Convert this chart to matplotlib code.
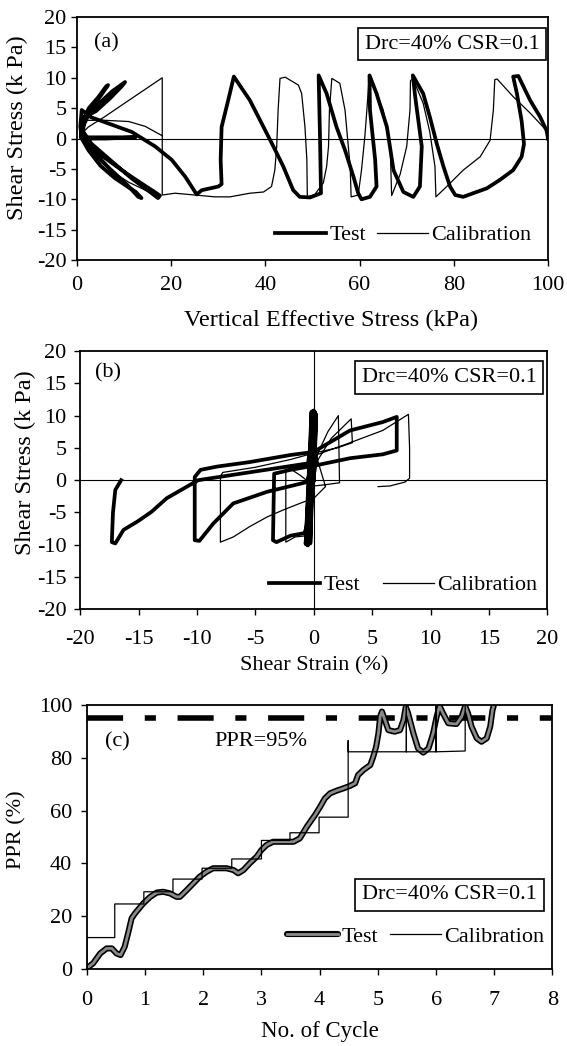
import matplotlib
matplotlib.use("Agg")
import matplotlib.pyplot as plt

plt.rcParams['font.family'] = ['Liberation Serif', 'DejaVu Serif']
plt.rcParams['axes.unicode_minus'] = False

# ---- data -------------------------------------------------------------
# (a) stress path: vertical effective stress (kPa) vs shear stress (kPa)
a_test_x = [100, 99.7, 98.3, 96.2, 93.7, 92.6, 93.4, 94.4, 94.9, 94.4, 92.6, 89.8, 87.0, 84.1, 82.0,
            80.3, 79.2, 77.8, 76.4, 74.9, 73.5, 71.3, 71.8, 73.2, 72.8, 71.4, 69.3, 67.2, 65.8, 63.6,
            62.1, 62.2, 63.3, 63.6, 62.2, 60.4, 59.7, 58.7, 56.9, 55.1, 53.0, 51.3, 51.6, 51.8, 49.5,
            47.3, 45.9, 43.8, 41.7, 39.6, 36.7, 33.3, 32.1, 30.7, 30.5, 30.7, 30.0, 26.5, 25.4, 23.0,
            20.1, 16.6, 11.6, 6.6, 3.0, 1.0, 0.7, 1.0, 2.5, 5.0, 8.0, 10.5, 12.5, 13.7, 13.0,
            10.5, 7.0, 3.5, 1.2, 1.5, 3.0, 5.0, 6.6, 6.2, 4.5, 2.5, 1.0, 0.8, 6.0, 12.4,
            6.0, 1.2, 3.0, 7.0, 11.0, 14.5, 16.5, 17.6, 17.2, 15.5, 11.5, 7.0, 3.0, 1.0, 2.5,
            5.0, 7.5, 10.2, 9.5, 7.0, 4.0, 1.5]
a_test_y = [0.0, 1.3, 3.6, 6.3, 10.3, 10.2, 7.4, 2.9, -0.9, -3.0, -5.2, -6.8, -8.2, -9.0, -9.6,
            -9.3, -7.9, -4.6, -0.9, 3.6, 7.4, 10.4, 6.9, -1.3, -7.9, -9.6, -8.8, -5.2, 1.9, 7.4,
            10.4, 4.7, -3.5, -7.9, -9.6, -10.0, -9.0, -6.3, -1.9, 1.9, 7.4, 10.4, 0.0, -9.0, -9.7,
            -9.6, -8.5, -4.6, -1.3, 1.9, 6.3, 10.2, 6.3, 1.9, -3.5, -7.5, -7.9, -8.5, -9.2, -6.3,
            -3.5, -1.3, 1.1, 2.5, 3.5, 4.7, 2.0, 0.0, -2.0, -4.5, -6.5, -7.8, -8.8, -9.8, -9.6,
            -7.5, -5.0, -2.2, 0.3, 3.0, 5.0, 7.0, 8.8, 8.6, 6.8, 5.0, 2.5, 0.2, 0.2, 0.2,
            0.0, 0.0, -1.5, -3.8, -6.0, -7.8, -8.8, -9.4, -9.8, -8.8, -6.5, -3.5, -0.8, 1.5, 4.0,
            6.0, 7.8, 9.3, 8.6, 6.6, 4.5, 3.5]
a_cal_x = [100, 99.7, 96.2, 92.6, 89.2, 88.7, 88.4, 87.7, 85.6, 82.0, 78.5, 76.2, 76.0, 74.9, 73.5,
           71.3, 70.8, 70.7, 70.0, 68.6, 66.8, 66.5, 65.0, 63.6, 62.5, 62.0, 61.6, 61.1, 60.4, 59.7,
           58.2, 58.0, 57.6, 56.9, 55.8, 54.1, 53.6, 53.4, 53.0, 52.3, 50.5, 48.9, 48.8, 48.4, 47.7,
           47.0, 44.2, 43.1, 42.7, 42.4, 42.0, 41.3, 39.6, 36.7, 32.5, 29.3, 25.1, 20.8, 18.1, 18.1,
           13.7, 9.5, 5.9, 2.4, 1.0, 0.8, 3.0, 7.0, 11.0, 14.5, 17.0, 16.5, 12.0, 7.0, 3.0,
           1.2, 2.0, 6.0, 11.0, 14.5, 18.0]
a_cal_y = [0.0, 1.3, 4.2, 6.9, 9.8, 9.7, 4.7, -0.3, -3.0, -5.2, -7.9, -9.6, -4.6, 1.1, 5.8,
           9.9, 9.5, 4.7, -1.3, -5.9, -9.4, -1.3, 4.7, 7.4, 9.9, 9.9, 5.3, 0.2, -5.2, -9.3,
           -9.6, -4.6, -1.3, 4.7, 9.1, 9.9, 4.7, -1.3, -4.6, -7.3, -9.2, -9.6, -3.5, 1.9, 7.4,
           8.8, 10.1, 9.9, 4.7, -1.3, -5.2, -7.9, -8.8, -9.0, -9.6, -9.6, -9.3, -9.0, -9.3, 10.0,
           7.7, 5.5, 3.6, 1.9, 0.8, 0.0, -2.5, -5.2, -7.2, -8.5, -9.4, -9.0, -6.5, -3.8, -1.2,
           1.0, 3.0, 3.0, 2.8, 2.0, 0.5]

# (b) stress-strain: shear strain (%) vs shear stress (kPa)
b_test_x = [0.0, 0.1, -0.3, 0.0, -0.5, -0.2, -0.7, -0.1, -0.6, -0.3, 0.0, 3.1, 5.9, 7.1, 7.1,
            5.9, 3.1, 0.2, -2.0, -3.4, -3.5, -3.2, -2.0, -0.8, -0.4, 0.0, 0.2, 0.1, -2.0, -5.5,
            -8.3, -9.7, -10.2, -10.2, -9.8, -8.6, -6.9, -4.0, -0.6, 0.0, 0.1, -0.3, -0.5, -5.2, -9.9,
            -12.6, -13.9, -15.1, -16.3, -17.0, -17.3, -17.2, -17.0, -16.5]
b_test_y = [0.0, 10.5, -9.8, 10.8, -10.1, 10.6, -9.9, 10.7, -10.0, -5.0, 4.4, 7.7, 9.0, 9.8, 4.6,
            4.0, 3.4, 2.3, 1.6, 1.0, -9.3, -9.6, -8.6, -8.2, -6.0, 0.5, 10.2, 4.4, 3.9, 2.8,
            2.1, 1.6, 0.5, -9.3, -9.4, -6.7, -3.6, -1.8, -0.3, 3.0, 10.5, 5.0, 2.6, 1.3, 0.0,
            -2.8, -4.9, -6.4, -7.7, -9.8, -9.6, -5.0, -1.5, 0.0]
b_cal_x = [0.0, 0.2, -0.3, 0.1, -0.5, -0.2, 0.3, 1.2, 2.1, 2.2, 1.0, 0.0, -1.2, -2.4, -2.4,
           -1.6, -0.6, -0.3, 0.3, 1.5, 3.2, 3.3, 2.0, 0.0, -2.0, -5.0, -7.8, -8.0, -8.0, -6.9,
           -5.5, -4.0, -2.6, -1.2, 0.0, 1.0, 0.5, 0.2, 3.1, 5.9, 8.1, 8.2, 8.2, 7.8, 6.5,
           5.5]
b_cal_y = [0.0, 9.8, -9.6, 10.0, -9.7, -2.0, 4.0, 7.5, 10.0, -0.4, -0.7, -0.9, 0.8, 2.2, -9.6,
           -8.8, -8.6, -4.0, 3.0, 6.5, 9.5, 5.8, 5.0, 4.2, 3.2, 2.0, 1.2, 0.6, -9.6, -8.8,
           -7.2, -5.7, -4.6, -3.6, -2.8, -1.0, 2.0, 3.9, 5.8, 7.7, 10.2, 5.0, 0.3, -0.3, -0.9,
           -1.0]

# (c) pore pressure ratio vs number of cycles
c_test_x = [0.0, 0.11, 0.23, 0.34, 0.43, 0.51, 0.58, 0.65, 0.71, 0.77, 0.83, 0.97, 1.09, 1.20, 1.31,
            1.43, 1.54, 1.60, 1.72, 1.83, 1.94, 2.06, 2.17, 2.40, 2.52, 2.60, 2.69, 2.80, 2.92, 3.00,
            3.09, 3.20, 3.55, 3.66, 3.78, 3.92, 4.01, 4.09, 4.18, 4.29, 4.41, 4.52, 4.61, 4.66, 4.75,
            4.87, 4.92, 4.97, 5.01, 5.04, 5.07, 5.12, 5.18, 5.29, 5.38, 5.44, 5.48, 5.52, 5.61, 5.69,
            5.78, 5.87, 5.95, 6.01, 6.06, 6.12, 6.21, 6.35, 6.44, 6.50, 6.55, 6.61, 6.70, 6.78, 6.87,
            6.93, 6.97, 7.00]
c_test_y = [0.4, 2.3, 6.0, 7.9, 7.9, 6.0, 5.4, 8.5, 13.7, 19.3, 21.2, 24.9, 27.4, 29.0, 29.3,
            28.7, 27.4, 27.4, 30.0, 32.5, 35.0, 36.9, 38.2, 38.2, 37.5, 36.3, 37.5, 40.1, 42.6, 45.1,
            47.0, 48.2, 48.2, 49.5, 53.9, 58.3, 61.5, 64.6, 66.5, 67.5, 68.4, 69.3, 70.3, 73.4, 75.3,
            77.2, 80.3, 84.1, 89.2, 95.5, 97.4, 94.2, 90.4, 89.8, 90.4, 94.2, 99.2, 96.7, 89.2, 83.5,
            81.9, 83.5, 89.2, 95.5, 99.5, 96.7, 93.0, 92.7, 95.5, 99.5, 96.7, 91.7, 87.3, 86.0, 87.3,
            91.7, 98.0, 100.3]
c_cal_x = [0.0, 0.0, 0.48, 0.48, 0.98, 0.98, 1.48, 1.48, 1.98, 1.98, 2.49, 2.49, 3.0, 3.0, 3.49,
           3.49, 3.99, 3.99, 4.49, 4.49, 4.49, 5.49, 5.49, 5.49, 6.0, 6.0, 6.0, 6.5, 6.5]
c_cal_y = [0.0, 12.0, 12.0, 24.7, 24.7, 29.3, 29.3, 34.1, 34.1, 38.2, 38.2, 41.7, 41.7, 48.7, 48.7,
           51.6, 51.6, 57.5, 57.5, 86.4, 82.2, 82.2, 100, 82.2, 82.2, 100, 82.2, 82.5, 100]
ppr_limit = 95
cycle_span = [0, 8]

box_text = 'Drc=40% CSR=0.1'
FS = 16
TFS = 16

fig = plt.figure(figsize=(5.67, 10.46), dpi=100)
ax_a = fig.add_axes([0.1358, 0.7514, 0.8307, 0.2323])
ax_b = fig.add_axes([0.1416, 0.4175, 0.8238, 0.2469])
ax_c = fig.add_axes([0.1531, 0.0733, 0.8213, 0.2530])


def style_axes(ax, xpad, ypad):
    for sp in ax.spines.values():
        sp.set_linewidth(1.3)
    ax.tick_params(direction='out', length=4, width=1, labelsize=TFS)
    ax.tick_params(axis='x', pad=xpad)
    ax.tick_params(axis='y', pad=ypad)


def add_legend(ax, handles, x, y, colsp):
    ax.legend(handles, ['Test', 'Calibration'], loc='center right', bbox_to_anchor=(x, y),
              ncol=2, frameon=False, fontsize=FS, handlelength=2.3, handletextpad=0.15,
              columnspacing=colsp, borderpad=0, borderaxespad=0)


def add_box(ax, x, y):
    ax.text(x, y, box_text, transform=ax.transAxes, ha='center', va='center', fontsize=FS,
            bbox=dict(boxstyle='square,pad=0.3', fc='white', ec='black', lw=1.2))


# ---- (a) --------------------------------------------------------------
ax = ax_a
ax.axhline(0, color='black', lw=0.8)
t, = ax.plot(a_test_x, a_test_y, color='black', lw=2.7, solid_joinstyle='round')
c, = ax.plot(a_cal_x, a_cal_y, color='black', lw=0.9)
ax.set_xlim(0, 100)
ax.set_ylim(-20, 20)
ax.set_xticks(range(0, 101, 20))
ax.set_yticks(range(-20, 21, 5))
style_axes(ax, 7.5, 3.5)
ax.set_xlabel('Vertical Effective Stress (kPa)', fontsize=17.5)
ax.set_ylabel('Shear Stress (k Pa)', fontsize=17.5)
ax.xaxis.set_label_coords(0.54, -0.205)
ax.yaxis.set_label_coords(-0.105, 0.543)
ax.text(0.063, 0.892, '(a)', transform=ax.transAxes, ha='center', va='center', fontsize=FS)
add_box(ax, 0.797, 0.889)
add_legend(ax, [t, c], 0.965, 0.103, 0.5)

# ---- (b) --------------------------------------------------------------
ax = ax_b
ax.axhline(0, color='black', lw=0.8)
ax.axvline(0, color='black', lw=0.8)
t, = ax.plot(b_test_x, b_test_y, color='black', lw=2.7, solid_joinstyle='round')
c, = ax.plot(b_cal_x, b_cal_y, color='black', lw=0.9)
ax.set_xlim(-20, 20)
ax.set_ylim(-20, 20)
ax.set_xticks(range(-20, 21, 5))
ax.set_yticks(range(-20, 21, 5))
style_axes(ax, 11, 6)
ax.set_xlabel('Shear Strain (%)', fontsize=FS)
ax.set_ylabel('Shear Stress (k Pa)', fontsize=17.5)
ax.xaxis.set_label_coords(0.5, -0.18)
ax.yaxis.set_label_coords(-0.094, 0.566)
ax.text(0.06, 0.914, '(b)', transform=ax.transAxes, ha='center', va='center', fontsize=FS)
add_box(ax, 0.79, 0.897)
add_legend(ax, [t, c], 0.978, 0.094, 1.0)

# ---- (c) --------------------------------------------------------------
ax = ax_c
ax.plot(cycle_span, [ppr_limit, ppr_limit], color='black', lw=4,
        linestyle=(0, (6.5, 3.9, 2.0, 3.9)), dash_capstyle='butt')
t1, = ax.plot(c_test_x, c_test_y, color='black', lw=4.4, solid_joinstyle='round',
              solid_capstyle='round')
t2, = ax.plot(c_test_x, c_test_y, color='#8a8a8a', lw=2.0, solid_joinstyle='round')
c, = ax.plot(c_cal_x, c_cal_y, color='black', lw=0.9)
ax.set_xlim(0, 8)
ax.set_ylim(0, 100)
ax.set_xticks(range(0, 9))
ax.set_yticks(range(0, 101, 20))
style_axes(ax, 11.5, 6.5)
ax.set_xlabel('No. of Cycle', fontsize=16.5)
ax.set_ylabel('PPR (%)', fontsize=FS)
ax.xaxis.set_label_coords(0.5, -0.195)
ax.yaxis.set_label_coords(-0.13, 0.526)
ax.text(0.066, 0.86, '(c)', transform=ax.transAxes, ha='center', va='center', fontsize=FS)
ax.text(0.373, 0.86, 'PPR=95%', transform=ax.transAxes, ha='center', va='center', fontsize=FS)
add_box(ax, 0.779, 0.281)
add_legend(ax, [(t1, t2), c], 0.982, 0.123, 0.5)

fig.savefig('out.png', dpi=100)
